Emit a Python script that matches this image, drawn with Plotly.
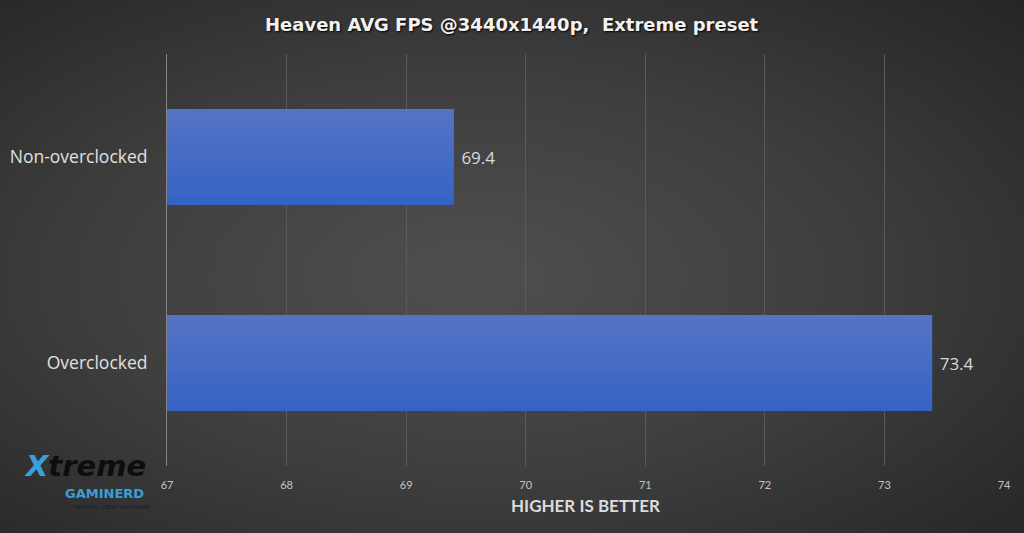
import numpy as np
import plotly.graph_objects as go

# ---- data ----
categories = ["Non-overclocked", "Overclocked"]
fps_values = [69.4, 73.4]
x_ticks = [67, 68, 69, 70, 71, 72, 73, 74]
title_text = "Heaven AVG FPS @3440x1440p,  Extreme preset"
axis_title = "HIGHER IS BETTER"

W, H = 1024, 533
px0, px1 = 167, 1004      # plot area x in pixels
py_top, py_bot = 54, 466  # plot area y in pixels

fig = go.Figure()

# ---- decorative radial background (style only) ----
gx = np.linspace(0, 1, 41)
gy = np.linspace(0, 1, 41)
GX, GY = np.meshgrid(gx, gy)
dist = np.sqrt(((GX - 0.46) / 0.75) ** 2 + ((GY - 0.48) / 0.75) ** 2)
fig.add_trace(go.Heatmap(
    x=gx, y=gy, z=np.clip(dist, 0, 1),
    colorscale=[[0, "#4f4f4f"], [0.5, "#3e3e3e"], [1, "#252525"]],
    zmin=0, zmax=1, zsmooth="best", showscale=False, hoverinfo="skip",
    xaxis="x", yaxis="y",
))

# ---- bars ----
bar_w = 0.466
y_order = ["Overclocked", "Non-overclocked"]
fig.add_trace(go.Bar(
    y=categories, x=fps_values, orientation="h", width=bar_w,
    marker=dict(color="#3563c4", line=dict(width=0)),
    text=[f" {v:.1f}" for v in fps_values], textposition="outside",
    constraintext="none",
    textfont=dict(family="Open Sans", size=17, color="#d9d9d9"),
    cliponaxis=False, xaxis="x2", yaxis="y2",
))
# gentle vertical shading of bars (stacked translucent layers)
n_layers = 16
for k in range(1, n_layers + 1):
    w = bar_w * (n_layers - k + 1) / (n_layers + 0.5)
    fig.add_trace(go.Bar(
        y=categories, x=fps_values, orientation="h", width=w,
        offset=bar_w / 2 - w,
        marker=dict(color="rgba(255,255,255,0.013)", line=dict(width=0)),
        hoverinfo="skip", xaxis="x2", yaxis="y2",
    ))

fig.update_layout(
    width=W, height=H,
    margin=dict(l=0, r=0, t=0, b=0, autoexpand=False),
    paper_bgcolor="#2c2c2c",
    plot_bgcolor="rgba(0,0,0,0)",
    barmode="overlay",
    showlegend=False,
    xaxis=dict(domain=[0, 1], range=[0, 1], visible=False, fixedrange=True,
               automargin=False),
    yaxis=dict(domain=[0, 1], range=[0, 1], visible=False, fixedrange=True,
               automargin=False),
    xaxis2=dict(
        domain=[px0 / W, px1 / W], range=[67, 74], anchor="y2",
        automargin=False,
        tickvals=x_ticks, ticktext=[str(t) for t in x_ticks],
        showgrid=True, gridcolor="#5a5a5a", gridwidth=1,
        zeroline=False, showline=False,
        ticks="outside", ticklen=9, tickcolor="rgba(0,0,0,0)",
        tickfont=dict(family="Liberation Sans Narrow, Lato", size=11, color="#c4c4c4"),
    ),
    yaxis2=dict(
        domain=[1 - py_bot / H, 1 - py_top / H], anchor="x2",
        automargin=False,
        type="category", categoryorder="array", categoryarray=y_order,
        range=[-0.5, 1.5],
        showgrid=False, zeroline=False,
        showline=True, linecolor="#858585", linewidth=1,
        ticks="outside", ticklen=15, tickcolor="rgba(0,0,0,0)",
        tickfont=dict(family="Open Sans", size=17.5, color="#e0e0e0"),
    ),
    annotations=[
        dict(text=f"<b>{title_text}</b>", x=512 / W, y=1 - 24 / H,
             xref="paper", yref="paper", showarrow=False,
             xanchor="center", yanchor="middle",
             font=dict(family="DejaVu Sans", size=18, color="#f2f2f2",
                       shadow="1px 1px 2px #000000")),
        dict(text=f"<b>{axis_title}</b>", x=585 / W, y=1 - 505 / H,
             xref="paper", yref="paper", showarrow=False,
             xanchor="center", yanchor="middle",
             font=dict(family="Lato", size=17, color="#dcdcdc")),
        # logo imitation
        dict(text="<b><i><span style='color:#3aa0dc'>X</span>treme</i></b>",
             x=85 / W, y=1 - 466 / H, xref="paper", yref="paper",
             showarrow=False, xanchor="center", yanchor="middle",
             font=dict(family="DejaVu Sans", size=29, color="#0d0d0d")),
        dict(text="<b>GAMINERD</b>", x=104 / W, y=1 - 493 / H,
             xref="paper", yref="paper", showarrow=False,
             xanchor="center", yanchor="middle",
             font=dict(family="DejaVu Sans", size=13, color="#3a9fd8")),
        dict(text="REVIEWS · TECH · HARDWARE", x=112 / W, y=1 - 507 / H,
             xref="paper", yref="paper", showarrow=False,
             xanchor="center", yanchor="middle",
             font=dict(family="DejaVu Sans", size=5, color="#1a1a1a")),
    ],
)

fig.write_html("out.html", config={"displayModeBar": False},
               post_script="document.body.style.margin='0';")
